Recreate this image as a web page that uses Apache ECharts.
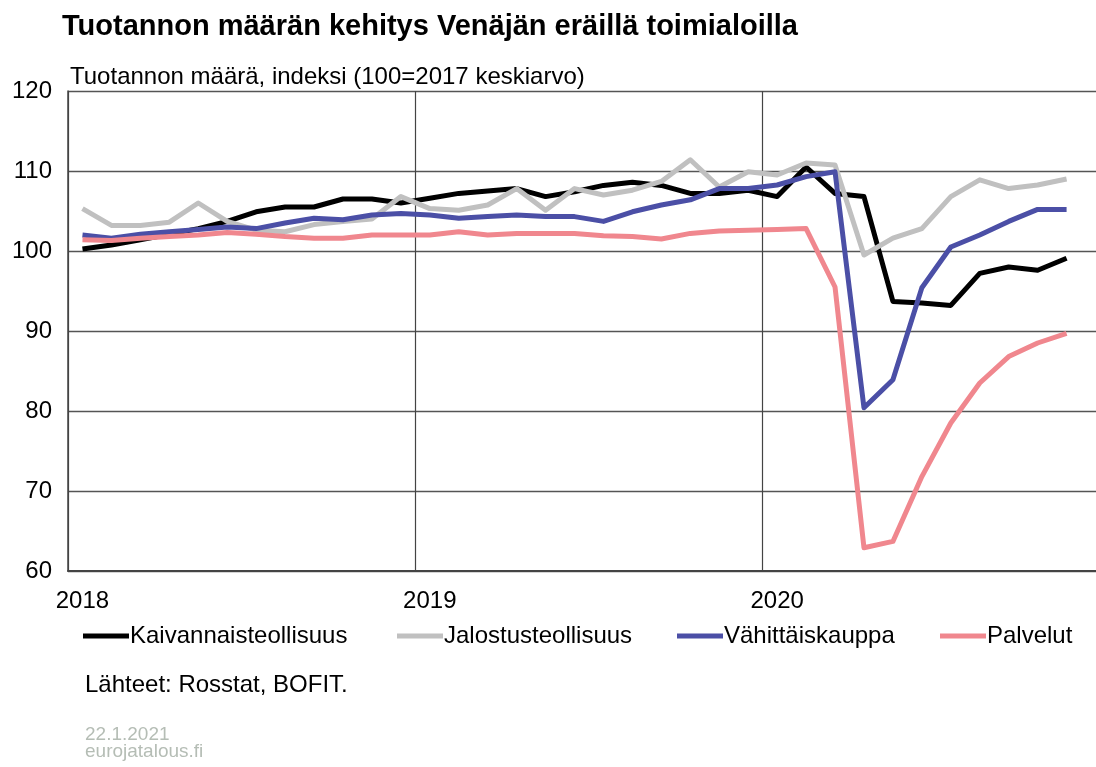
<!DOCTYPE html>
<html><head><meta charset="utf-8">
<script src="https://cdn.jsdelivr.net/npm/echarts@6/dist/echarts.min.js"></script>
<style>html,body{margin:0;padding:0;background:#fff}#c{width:1096px;height:767px}</style>
</head><body><div id="c"></div>
<script>
const months = ['2018-01','2018-02','2018-03','2018-04','2018-05','2018-06','2018-07','2018-08','2018-09','2018-10','2018-11','2018-12',
  '2019-01','2019-02','2019-03','2019-04','2019-05','2019-06','2019-07','2019-08','2019-09','2019-10','2019-11','2019-12',
  '2020-01','2020-02','2020-03','2020-04','2020-05','2020-06','2020-07','2020-08','2020-09','2020-10','2020-11','2020-12'];
const yearLabels = {'2018-01':'2018','2019-01':'2019','2020-01':'2020'};
const kaivannais = [100.25,100.75,101.4,102.1,102.8,103.7,104.9,105.5,105.5,106.5,106.5,106.0,
  106.6,107.2,107.5,107.8,106.8,107.4,108.2,108.6,108.2,107.2,107.2,107.6,
  106.8,110.5,107.2,106.8,93.7,93.5,93.2,97.2,98.0,97.6,99.1];
const jalostus = [105.3,103.2,103.2,103.6,106.0,103.7,102.6,102.4,103.3,103.7,104.0,106.8,
  105.3,105.1,105.75,107.8,105.1,107.8,107.0,107.6,108.7,111.4,108.0,109.9,
  109.5,111.0,110.75,99.5,101.6,102.8,106.8,108.9,107.8,108.25,109.0];
const vahittais = [102.0,101.6,102.1,102.4,102.7,103.0,102.8,103.5,104.1,103.9,104.5,104.7,
  104.5,104.1,104.3,104.5,104.3,104.3,103.7,104.9,105.75,106.4,107.8,107.8,
  108.25,109.3,109.9,80.4,83.9,95.4,100.5,102.0,103.7,105.2,105.2];
const palvelut = [101.4,101.3,101.6,101.8,102.0,102.3,102.1,101.8,101.6,101.6,102.0,102.0,
  102.0,102.4,102.0,102.2,102.2,102.2,101.9,101.8,101.5,102.2,102.5,102.6,
  102.7,102.8,95.5,62.9,63.7,71.8,78.5,83.5,86.8,88.5,89.7];
const names = ['Kaivannaisteollisuus','Jalostusteollisuus','Vähittäiskauppa','Palvelut'];
const colors = ['#000000','#c0c0c0','#4b4fa6','#f0878e'];
const seriesData = [kaivannais, jalostus, vahittais, palvelut];
const legendLeft = [83, 397, 677, 940];

const FONT = '"Liberation Sans", Arial, sans-serif';
const chart = echarts.init(document.getElementById('c'), null, {renderer:'canvas'});
const txt = (t, x, y, size, color, weight) => ({type:'text', style:{text:t, x:x, y:y, fill:color, font:(weight||'normal')+' '+size+'px '+FONT, align:'left', verticalAlign:'middle'}});
chart.setOption({
  animation:false,
  backgroundColor:'#fff',
  grid:{left:68, top:91, width:1042, bottom:196, containLabel:false, outerBoundsMode:'none'},
  xAxis:{type:'category', data:months, boundaryGap:true,
    axisLine:{show:true, lineStyle:{color:'#444', width:2}},
    axisTick:{show:false},
    axisLabel:{interval:0, margin:18, color:'#000', fontSize:24, fontFamily:FONT,
      formatter:v => yearLabels[v] || ''},
    splitLine:{show:true, interval:(i)=> i%12===0, lineStyle:{color:'#444', width:1.2}}
  },
  yAxis:{type:'value', min:60, max:120, interval:10,
    axisLine:{show:true, lineStyle:{color:'#444', width:1.5}},
    axisTick:{show:false},
    axisLabel:{margin:16, color:'#000', fontSize:24, fontFamily:FONT},
    splitLine:{show:true, lineStyle:{color:'#555', width:1.3}}
  },
  legend: names.map((n,i)=>({data:[n], left:legendLeft[i], top:624, padding:0, icon:'rect', itemWidth:46, itemHeight:5, itemGap:0,
    textStyle:{fontSize:24, fontFamily:FONT, color:'#000', padding:[0,0,0,-4]}})),
  series: names.map((n,i)=>({name:n, type:'line', data:seriesData[i], showSymbol:false, symbol:'none',
    lineStyle:{color:colors[i], width:5, join:'round'}, itemStyle:{color:colors[i]}})),
  graphic:[
    txt('Tuotannon määrän kehitys Venäjän eräillä toimialoilla', 62, 27, 29, '#000', 'bold'),
    txt('Tuotannon määrä, indeksi (100=2017 keskiarvo)', 70, 77, 24, '#000'),
    txt('Lähteet: Rosstat, BOFIT.', 85, 685, 24, '#000'),
    txt('22.1.2021', 85, 735, 19, '#b5bdb5'),
    txt('eurojatalous.fi', 85, 752, 19, '#b5bdb5')
  ]
});
</script></body></html>
